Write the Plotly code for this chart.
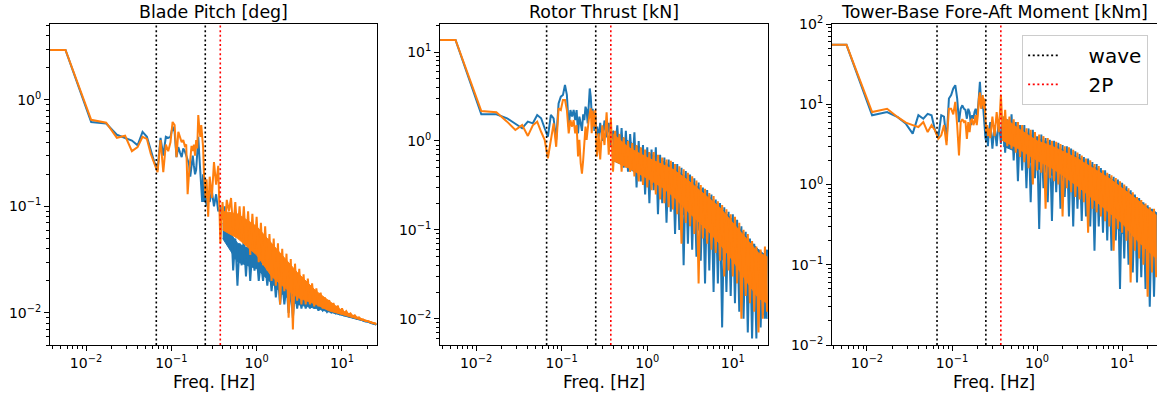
import plotly.graph_objects as go

# ---------------- data ----------------
# low-frequency bins [Hz]
f_low = [0.0038, 0.00575, 0.0115, 0.01725, 0.023, 0.02875, 0.0345, 0.04025, 0.046, 0.05175,
         0.0575, 0.06325, 0.069, 0.07475, 0.0805, 0.08625, 0.092, 0.09775, 0.1035, 0.1093,
         0.115, 0.1208, 0.1265, 0.1323, 0.138, 0.1438, 0.1495, 0.1553, 0.161, 0.1668,
         0.1725, 0.1783, 0.184, 0.1898, 0.1955, 0.2013, 0.207, 0.2128, 0.2185, 0.2243,
         0.23, 0.2358, 0.2415, 0.2473, 0.253, 0.2588, 0.2645, 0.2703]
# high-frequency sample points [Hz]
f_high = [0.2818, 0.2985, 0.3162, 0.335, 0.3548, 0.3758, 0.3981, 0.4217, 0.4467, 0.4732,
          0.5012, 0.5309, 0.5623, 0.5957, 0.631, 0.6683, 0.7079, 0.7499, 0.7943, 0.8414,
          0.8913, 0.9441, 1.0, 1.059, 1.122, 1.189, 1.259, 1.334, 1.413, 1.496,
          1.585, 1.679, 1.778, 1.884, 1.995, 2.113, 2.239, 2.371, 2.512, 2.661,
          2.818, 2.985, 3.162, 3.35, 3.548, 3.758, 3.981, 4.217, 4.467, 4.732,
          5.012, 5.309, 5.623, 5.957, 6.31, 6.683, 7.079, 7.499, 7.943, 8.414,
          8.913, 9.441, 10.0, 10.59, 11.22, 11.89, 12.59, 13.34, 14.13, 14.96,
          15.85, 16.79, 17.78, 18.84, 19.95, 21.13, 22.39, 23.71, 25.12]
# frequencies of the densely covered band edges [Hz]
f_band = [0.4, 0.6, 1.0, 1.5, 2.0, 3.0, 5.0, 7.0, 10.0, 15.0, 20.0, 25.12]

# Blade pitch [deg]
pitch_blue_low = [2.94, 2.94, 0.62, 0.60, 0.47, 0.44, 0.415, 0.375, 0.50, 0.45,
                  0.33, 0.26, 0.22, 0.44, 0.30, 0.45, 0.44, 0.45, 0.56, 0.50,
                  0.29, 0.36, 0.32, 0.29, 0.35, 0.33, 0.30, 0.27, 0.25, 0.19,
                  0.26, 0.30, 0.24, 0.20, 0.22, 0.30, 0.45, 0.30, 0.22, 0.16,
                  0.11, 0.20, 0.11, 0.14, 0.12, 0.10, 0.13, 0.14]
pitch_orange_low = [2.94, 2.94, 0.65, 0.61, 0.44, 0.46, 0.33, 0.36, 0.45, 0.43,
                    0.31, 0.25, 0.21, 0.42, 0.21, 0.38, 0.33, 0.40, 0.62, 0.58,
                    0.29, 0.50, 0.45, 0.40, 0.42, 0.37, 0.38, 0.13, 0.20, 0.30,
                    0.37, 0.33, 0.38, 0.30, 0.42, 0.35, 0.72, 0.55, 0.45, 0.58,
                    0.47, 0.36, 0.20, 0.15, 0.12, 0.18, 0.10, 0.08]
pitch_blue_high = [0.11, 0.14, 0.10, 0.13, 0.09, 0.10, 0.075, 0.10, 0.06, 0.045,
                   0.07, 0.025, 0.05, 0.018, 0.045, 0.028, 0.05, 0.022, 0.045, 0.02,
                   0.04, 0.025, 0.035, 0.02, 0.03, 0.02, 0.03, 0.018, 0.028, 0.016,
                   0.025, 0.014, 0.022, 0.012, 0.02, 0.012, 0.018, 0.01, 0.017, 0.009,
                   0.016, 0.011, 0.015, 0.011, 0.014, 0.011, 0.013, 0.011, 0.013, 0.011,
                   0.012, 0.0105, 0.0115, 0.0105, 0.011, 0.0102, 0.0108, 0.0101, 0.0105, 0.0099,
                   0.0102, 0.0097, 0.0099, 0.0095, 0.0096, 0.0093, 0.0093, 0.0091, 0.0091, 0.0088,
                   0.0088, 0.0086, 0.0085, 0.0083, 0.0083, 0.0081, 0.0080, 0.0079, 0.0078]
pitch_orange_high = [0.19, 0.12, 0.26, 0.16, 0.24, 0.045, 0.11, 0.06, 0.115, 0.09,
                     0.12, 0.06, 0.11, 0.055, 0.10, 0.05, 0.10, 0.045, 0.09, 0.035,
                     0.085, 0.04, 0.08, 0.03, 0.07, 0.028, 0.065, 0.025, 0.055, 0.02,
                     0.05, 0.018, 0.045, 0.012, 0.04, 0.016, 0.036, 0.009, 0.032, 0.007,
                     0.029, 0.013, 0.026, 0.012, 0.023, 0.012, 0.021, 0.012, 0.019, 0.0115,
                     0.017, 0.0115, 0.0155, 0.011, 0.014, 0.0108, 0.0132, 0.0106, 0.0124, 0.0104,
                     0.0117, 0.0101, 0.0110, 0.0099, 0.0104, 0.0096, 0.0099, 0.0093, 0.0095, 0.0090,
                     0.0091, 0.0087, 0.0087, 0.0084, 0.0084, 0.0082, 0.0081, 0.0080, 0.0079]
pitch_blue_band_hi = [0.07, 0.045, 0.037, 0.028, 0.022, 0.018, 0.013, 0.011, 0.0099, 0.0089, 0.0083, 0.0079]
pitch_blue_band_lo = [0.05, 0.03, 0.026, 0.019, 0.015, 0.012, 0.011, 0.0102, 0.0095, 0.0087, 0.0082, 0.0077]
pitch_orange_band_hi = [0.09, 0.085, 0.065, 0.045, 0.035, 0.024, 0.016, 0.013, 0.0105, 0.0091, 0.0084, 0.0080]
pitch_orange_band_lo = [0.06, 0.05, 0.035, 0.022, 0.018, 0.014, 0.012, 0.0105, 0.0097, 0.0088, 0.0083, 0.0078]

# Rotor thrust [kN]
thrust_blue_low = [13.7, 13.7, 2.0, 2.0, 1.8, 1.58, 1.39, 1.65, 1.58, 1.96,
                   1.8, 1.39, 1.12, 1.96, 1.8, 1.03, 2.65, 3.15, 3.3, 4.26,
                   3.3, 1.45, 2.23, 1.88, 2.23, 1.72, 2.23, 1.22, 1.88, 1.58,
                   1.3, 2.0, 1.72, 2.43, 2.23, 1.58, 2.9, 3.9, 3.15, 2.0,
                   2.3, 1.58, 1.3, 1.96, 1.22, 1.45, 1.22, 1.1]
thrust_orange_low = [13.7, 13.7, 2.17, 2.1, 1.65, 1.33, 1.51, 1.14, 1.5, 1.65,
                     1.27, 1.03, 0.64, 1.03, 1.58, 0.86, 2.33, 2.23, 2.9, 2.9,
                     2.23, 1.22, 1.72, 1.45, 1.72, 1.22, 1.51, 0.67, 1.03, 0.56,
                     0.43, 0.61, 1.03, 1.45, 1.03, 1.45, 1.72, 2.04, 2.33, 1.22,
                     2.2, 1.45, 2.04, 2.23, 1.03, 0.67, 0.86, 1.22]
thrust_blue_high = [1.6, 1.0, 1.7, 1.1, 1.6, 0.9, 1.3, 0.8, 1.5, 0.6,
                    1.4, 0.5, 1.3, 0.45, 1.2, 0.5, 1.25, 0.3, 1.0, 0.35,
                    0.9, 0.25, 0.85, 0.2, 0.8, 0.28, 0.85, 0.15, 0.7, 0.2,
                    0.65, 0.12, 0.62, 0.16, 0.58, 0.09, 0.55, 0.1, 0.5, 0.04,
                    0.46, 0.07, 0.42, 0.06, 0.38, 0.05, 0.34, 0.045, 0.3, 0.025,
                    0.28, 0.035, 0.25, 0.02, 0.22, 0.025, 0.2, 0.008, 0.18, 0.02,
                    0.16, 0.018, 0.15, 0.015, 0.13, 0.012, 0.11, 0.01, 0.095, 0.007,
                    0.08, 0.006, 0.07, 0.006, 0.06, 0.008, 0.055, 0.01, 0.06]
thrust_orange_high = [0.62, 1.5, 0.9, 2.1, 0.7, 1.8, 0.45, 1.3, 0.6, 1.2,
                      0.45, 1.1, 0.5, 1.0, 0.45, 0.95, 0.4, 0.9, 0.35, 0.85,
                      0.32, 0.8, 0.3, 0.75, 0.28, 0.75, 0.25, 0.7, 0.22, 0.65,
                      0.2, 0.62, 0.18, 0.6, 0.17, 0.55, 0.15, 0.52, 0.07, 0.48,
                      0.12, 0.44, 0.11, 0.4, 0.09, 0.36, 0.025, 0.32, 0.08, 0.29,
                      0.07, 0.26, 0.06, 0.24, 0.055, 0.21, 0.045, 0.19, 0.03, 0.17,
                      0.035, 0.15, 0.03, 0.14, 0.025, 0.12, 0.01, 0.1, 0.018, 0.09,
                      0.015, 0.075, 0.012, 0.065, 0.007, 0.06, 0.01, 0.065, 0.012]
thrust_blue_band_hi = [1.3, 1.0, 0.75, 0.6, 0.5, 0.38, 0.25, 0.18, 0.13, 0.08, 0.06, 0.05]
thrust_blue_band_lo = [0.6, 0.5, 0.35, 0.28, 0.2, 0.13, 0.08, 0.05, 0.035, 0.02, 0.013, 0.01]
thrust_orange_band_hi = [1.2, 0.85, 0.65, 0.55, 0.48, 0.36, 0.24, 0.18, 0.12, 0.075, 0.055, 0.05]
thrust_orange_band_lo = [0.6, 0.5, 0.38, 0.3, 0.24, 0.16, 0.1, 0.07, 0.045, 0.025, 0.017, 0.015]

# Tower-base fore-aft moment [kNm]
moment_blue_low = [55, 55, 7.3, 8.0, 6.9, 5.7, 4.3, 7.3, 6.6, 7.6,
                   7.3, 4.7, 3.9, 7.3, 7.0, 3.5, 11.8, 13, 15.7, 17.3,
                   11.8, 6.0, 8.8, 9.7, 8.8, 8.5, 6.6, 8.8, 7.9, 5.5,
                   7.3, 6.6, 8.0, 8.8, 7.3, 8.5, 12.5, 19, 11.8, 8.8,
                   10.7, 6.6, 5.0, 3.8, 3.4, 5.0, 3.0, 4.5]
moment_orange_low = [55, 55, 8.0, 8.8, 6.9, 5.9, 5.5, 5.2, 6.0, 4.5,
                     5.5, 4.7, 3.7, 4.1, 5.5, 3.1, 8.8, 8.8, 7.5, 10.7,
                     5.5, 2.3, 6.0, 6.5, 6.0, 6.2, 3.7, 6.0, 4.5, 6.2,
                     6.6, 5.5, 6.0, 7.3, 5.5, 7.3, 11.8, 14, 8.8, 10.7,
                     13, 8.8, 11.8, 6.6, 4.5, 5.5, 4.0, 5.0]
moment_blue_high = [6.0, 2.8, 5.5, 3.0, 6.5, 3.2, 7.0, 2.5, 6.5, 2.8,
                    7.5, 2.0, 6.0, 1.1, 5.5, 1.5, 5.5, 0.9, 5.0, 0.6,
                    4.8, 1.2, 4.0, 0.28, 4.2, 0.9, 3.8, 0.6, 3.6, 0.35,
                    3.5, 0.8, 3.3, 0.5, 3.1, 0.7, 3.0, 0.4, 2.8, 0.3,
                    2.6, 0.5, 2.4, 0.35, 2.2, 0.4, 2.1, 0.3, 1.9, 0.15,
                    1.8, 0.3, 1.6, 0.25, 1.5, 0.2, 1.35, 0.15, 1.25, 0.2,
                    1.15, 0.05, 1.05, 0.12, 0.95, 0.1, 0.85, 0.08, 0.75, 0.06,
                    0.68, 0.07, 0.6, 0.05, 0.55, 0.03, 0.5, 0.04, 0.45]
moment_orange_high = [3.8, 7.0, 4.0, 8.0, 4.5, 13.0, 3.5, 8.5, 3.0, 7.0,
                      2.8, 6.5, 2.5, 6.0, 2.2, 5.5, 1.9, 5.0, 1.6, 4.8,
                      1.0, 4.5, 1.5, 4.2, 1.4, 4.0, 0.5, 3.8, 1.2, 3.5,
                      1.1, 3.4, 1.0, 3.2, 0.4, 3.0, 0.9, 2.9, 0.8, 2.7,
                      0.7, 2.5, 0.65, 2.3, 0.6, 2.1, 0.25, 2.0, 0.5, 1.8,
                      0.45, 1.7, 0.4, 1.5, 0.35, 1.4, 0.3, 1.3, 0.15, 1.2,
                      0.28, 1.1, 0.25, 1.0, 0.2, 0.9, 0.06, 0.8, 0.15, 0.7,
                      0.12, 0.64, 0.1, 0.58, 0.04, 0.52, 0.08, 0.5, 0.07]
moment_blue_band_hi = [6, 5, 3.8, 3.2, 2.7, 2.2, 1.6, 1.25, 0.95, 0.68, 0.52, 0.45]
moment_blue_band_lo = [3, 2.5, 1.6, 1.3, 1.1, 0.8, 0.5, 0.35, 0.25, 0.15, 0.1, 0.08]
moment_orange_band_hi = [7, 5, 3.5, 3.0, 2.6, 2.1, 1.5, 1.2, 0.9, 0.65, 0.5, 0.42]
moment_orange_band_lo = [3.5, 2.8, 2.0, 1.6, 1.3, 0.95, 0.6, 0.45, 0.33, 0.2, 0.15, 0.12]

titles = ["Blade Pitch [deg]", "Rotor Thrust [kN]", "Tower-Base Fore-Aft Moment [kNm]"]
wave_freqs = [1 / 15, 1 / 4]   # wave band limits [Hz]
two_p_freq = [0.375]           # 2P rotor frequency [Hz]

panels = [
    dict(blue=pitch_blue_low + pitch_blue_high, orange=pitch_orange_low + pitch_orange_high,
         bband=(pitch_blue_band_hi, pitch_blue_band_lo), oband=(pitch_orange_band_hi, pitch_orange_band_lo),
         yr=[-2.301, 0.712], ydec=[-2, -1, 0]),
    dict(blue=thrust_blue_low + thrust_blue_high, orange=thrust_orange_low + thrust_orange_high,
         bband=(thrust_blue_band_hi, thrust_blue_band_lo), oband=(thrust_orange_band_hi, thrust_orange_band_lo),
         yr=[-2.295, 1.316], ydec=[-2, -1, 0, 1]),
    dict(blue=moment_blue_low + moment_blue_high, orange=moment_orange_low + moment_orange_high,
         bband=(moment_blue_band_hi, moment_blue_band_lo), oband=(moment_orange_band_hi, moment_orange_band_lo),
         yr=[-2, 2], ydec=[-2, -1, 0, 1, 2]),
]
freqs = f_low + f_high

# ---------------- figure ----------------
FONT = "DejaVu Sans"
BLUE, ORANGE = "#1f77b4", "#ff7f0e"
domains = [[0.0, 0.2954], [0.3523, 0.6486], [0.7064, 1.0]]
xranges = [[-2.422, 1.411], [-2.422, 1.411], [-2.411, 1.41]]
DOT = "2px,2.6px"
NB = "\u00a0"


def sup(e):
    return "10<sup>" + (("\u2212" + str(-e)) if e < 0 else str(e)) + "</sup>"


def minor_vals(lo, hi):
    vals = []
    for d in range(lo - 1, hi + 1):
        for m in range(2, 10):
            vals.append(m * 10.0 ** d)
    return vals


fig = go.Figure()
for i, p in enumerate(panels):
    n = "" if i == 0 else str(i + 1)
    xa, ya = "x" + n, "y" + n
    for color, key, bkey in [(BLUE, "blue", "bband"), (ORANGE, "orange", "oband")]:
        hi, lo = p[bkey]
        fig.add_trace(go.Scatter(x=f_band + f_band[::-1], y=hi + lo[::-1], mode="lines", fill="toself",
                                 fillcolor=color, line=dict(color=color, width=1),
                                 xaxis=xa, yaxis=ya, showlegend=False, hoverinfo="skip"))
        fig.add_trace(go.Scatter(x=freqs, y=p[key], mode="lines", line=dict(color=color, width=2),
                                 xaxis=xa, yaxis=ya, showlegend=False, hoverinfo="skip"))
    for fw in wave_freqs:
        fig.add_shape(type="line", xref=xa, yref=ya + " domain", x0=fw, x1=fw, y0=0, y1=1,
                      line=dict(color="black", width=1.6, dash=DOT))
    for fp in two_p_freq:
        fig.add_shape(type="line", xref=xa, yref=ya + " domain", x0=fp, x1=fp, y0=0, y1=1,
                      line=dict(color="red", width=1.6, dash=DOT))

    axis_common = dict(type="log", showline=True, mirror=True, linecolor="black", linewidth=1,
                       ticks="outside", ticklen=5, tickwidth=1, tickcolor="black",
                       showgrid=False, zeroline=False, automargin=False,
                       tickfont=dict(family=FONT, size=14, color="black"))
    fig.update_layout({
        "xaxis" + n: dict(axis_common, domain=domains[i], range=xranges[i], anchor=ya,
                          tickmode="array", tickvals=[0.01, 0.1, 1, 10],
                          ticktext=[sup(-2), sup(-1), sup(0), sup(1)],
                          minor=dict(ticks="outside", ticklen=3, tickwidth=1, tickcolor="black",
                                     tickvals=minor_vals(-2, 1), showgrid=False)),
        "yaxis" + n: dict(axis_common, domain=[0, 1], range=p["yr"], anchor=xa,
                          tickmode="array", tickvals=[10.0 ** e for e in p["ydec"]],
                          ticktext=[sup(e) for e in p["ydec"]],
                          minor=dict(ticks="outside", ticklen=3, tickwidth=1, tickcolor="black",
                                     tickvals=minor_vals(p["ydec"][0], p["ydec"][-1]), showgrid=False)),
    })
    cx = (domains[i][0] + domains[i][1]) / 2
    fig.add_annotation(text=titles[i], xref="paper", yref="paper", x=cx, y=1, xanchor="center",
                       yanchor="bottom", yshift=0, showarrow=False,
                       font=dict(family=FONT, size=17.4, color="black"))
    fig.add_annotation(text="Freq. [Hz]", xref="paper", yref="paper", x=cx, y=0, xanchor="center",
                       yanchor="middle", yshift=-37, showarrow=False,
                       font=dict(family=FONT, size=17, color="black"))

# legend entries
fig.add_trace(go.Scatter(x=[None], y=[None], mode="lines", name=NB * 4 + "wave", xaxis="x3", yaxis="y3",
                         line=dict(color="black", width=1.6, dash=DOT)))
fig.add_trace(go.Scatter(x=[None], y=[None], mode="lines", name=NB * 4 + "2P", xaxis="x3", yaxis="y3",
                         line=dict(color="red", width=1.6, dash=DOT)))

fig.update_layout(
    width=1157, height=398,
    margin=dict(l=50, r=0, t=24, b=53, autoexpand=False),
    paper_bgcolor="white", plot_bgcolor="white",
    font=dict(family=FONT, size=14, color="black"),
    showlegend=True,
    legend=dict(x=0.992, xanchor="right", y=0.966, yanchor="top",
                bgcolor="rgba(255,255,255,0.85)", bordercolor="#cccccc", borderwidth=1,
                font=dict(family=FONT, size=20, color="black")),
)

# remove the default page margin so the figure sits exactly in the window; hide the modebar
fig.write_html("out.html",
               config={"displayModeBar": False},
               post_script="document.body.style.margin='0px';document.body.style.overflow='hidden';")
